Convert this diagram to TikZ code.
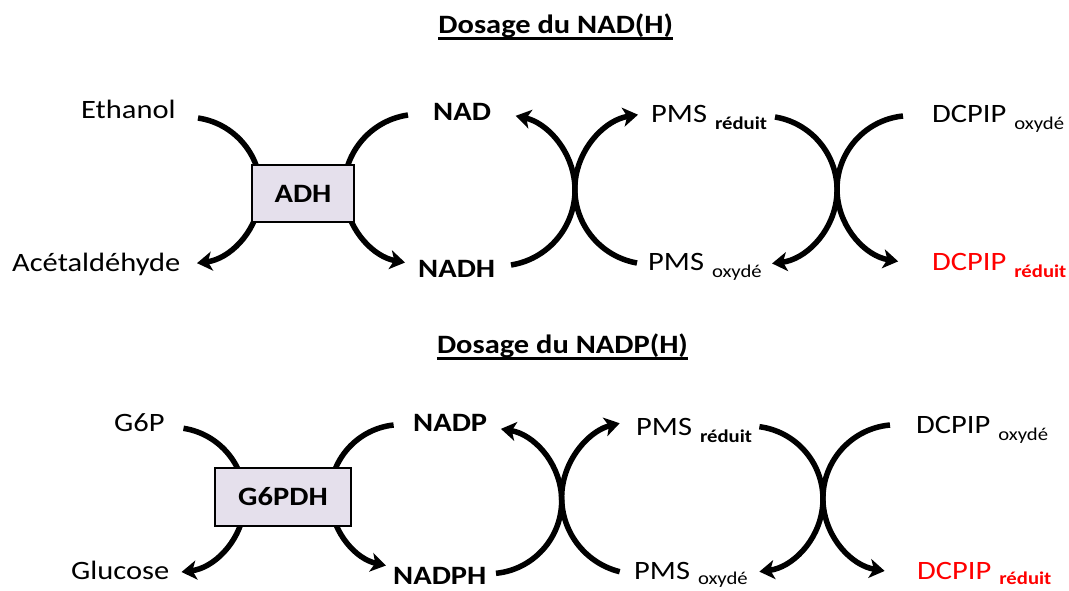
\documentclass[tikz,border=0pt]{standalone}
\usepackage{fontspec}
\setmainfont{Carlito}[FakeStretch=1.15]
\usetikzlibrary{arrows.meta}
\definecolor{boxfill}{HTML}{E5E0EC}
\definecolor{redlbl}{HTML}{FF0000}
\newcommand{\subtxt}[2][7pt]{\hspace{8pt}\raisebox{-#1}{\fontsize{18}{20}\selectfont #2}}
\begin{document}
\begin{tikzpicture}[x=1pt,y=-1pt,
  lbl/.style={inner sep=0pt, anchor=base west, font=\fontsize{26.5}{30}\selectfont},
  blbl/.style={inner sep=0pt, anchor=base west, font=\fontsize{26.5}{30}\selectfont\bfseries},
  ttl/.style={inner sep=0pt, anchor=base, font=\fontsize{26.5}{30}\selectfont\bfseries},
  enz/.style={draw, line width=1.5pt, fill=boxfill, inner sep=0pt, font=\fontsize{26.5}{30}\selectfont\bfseries},
  arr/.style={line width=5.5pt, -{Stealth[length=15pt,width=19pt,inset=4pt]}},
  uline/.style={line width=2.5pt}]
\useasboundingbox (0,0) rectangle (1069,591);

% ---------------- Top: NAD(H) ----------------
\node[ttl] (t1) at (555.8,33.3) {Dosage du NAD(H)};
\draw[uline] ([yshift=-5pt]t1.base west) -- ([yshift=-5pt]t1.base east);

\coordinate (a1) at (198,118);
\coordinate (a2) at (408,115);
\coordinate (a3) at (511,265);
\coordinate (a4) at (637,263);
\coordinate (a5) at (775,117);
\coordinate (a6) at (903,116);

\draw[arr] (a1) arc[start angle=-81.6, end angle=82.4, radius=73.3];
\draw[arr] (a2) arc[start angle=-98.3, end angle=-259.4, radius=74.8];
\draw[arr] (a3) arc[start angle=80.9, end angle=-77.3, radius=76];
\draw[arr] (a4) arc[start angle=100, end angle=260.8, radius=75.2];
\draw[arr] (a5) arc[start angle=-80.7, end angle=83, radius=74];
\draw[arr] (a6) arc[start angle=264.2, end angle=99.6, radius=73.4];

\node[enz, minimum width=102pt, minimum height=57pt] (adh) at (303,193.5) {ADH};

\node[lbl] (eth) at (81,119) {Ethanol};
\node[lbl] (acet) at (12,271) {Acétaldéhyde};
\node[blbl] (nad) at (433,121) {NAD};
\node[blbl] (nadh) at (418,277) {NADH};
\node[lbl] (pmsr1) at (651,123) {PMS\subtxt{\bfseries réduit}};
\node[lbl] (pmso1) at (648,270) {PMS\subtxt{oxydé}};
\node[lbl] (dcpo1) at (932,123) {DCPIP\subtxt{oxydé}};
\node[lbl, text=redlbl] (dcpr1) at (932,270) {DCPIP\subtxt{\bfseries réduit}};

% ---------------- Bottom: NADP(H) ----------------
\node[ttl] (t2) at (562.5,353.3) {Dosage du NADP(H)};
\draw[uline] ([yshift=-5pt]t2.base west) -- ([yshift=-5pt]t2.base east);

\coordinate (b1) at (183.5,428.3);
\coordinate (b2) at (393.6,425);
\coordinate (b3) at (496,573.3);
\coordinate (b4) at (619.7,571.7);
\coordinate (b5) at (759.4,426.7);
\coordinate (b6) at (890,425);

\draw[arr] (b1) arc[start angle=-81.1, end angle=82.7, radius=72.6];
\draw[arr] (b2) arc[start angle=263.8, end angle=102.4, radius=71.3];
\draw[arr] (b3) arc[start angle=84.3, end angle=-80.4, radius=72.9];
\draw[arr] (b4) arc[start angle=104, end angle=256, radius=76.5];
\draw[arr] (b5) arc[start angle=-82.5, end angle=82.5, radius=73.1];
\draw[arr] (b6) arc[start angle=264.9, end angle=99.3, radius=73.6];

\node[enz, minimum width=136pt, minimum height=58pt] (g6pdh) at (283,497) {G6PDH};

\node[lbl] (g6p) at (114,431) {G6P};
\node[lbl] (glc) at (71,579) {Glucose};
\node[blbl] (nadp) at (413,431) {NADP};
\node[blbl] (nadph) at (393,584) {NADPH};
\node[lbl] (pmsr2) at (636,435) {PMS\subtxt{\bfseries réduit}};
\node[lbl] (pmso2) at (634,579) {PMS\subtxt[5pt]{oxydé}};
\node[lbl] (dcpo2) at (916,433) {DCPIP\subtxt{oxydé}};
\node[lbl, text=redlbl] (dcpr2) at (917,579) {DCPIP\subtxt[5pt]{\bfseries réduit}};
\end{tikzpicture}
\end{document}
